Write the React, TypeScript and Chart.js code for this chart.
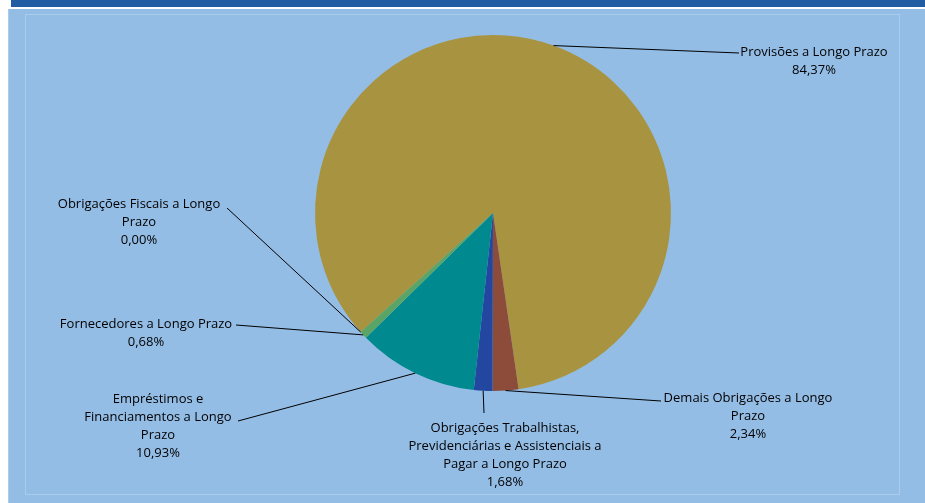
import React, { useEffect, useRef } from "react";
import { Chart, registerables } from "chart.js";

Chart.register(...registerables);

// ---- data ----
const categories: string[] = [
  "Provisões a Longo Prazo",
  "Demais Obrigações a Longo\nPrazo",
  "Obrigações Trabalhistas,\nPrevidenciárias e Assistenciais a\nPagar a Longo Prazo",
  "Empréstimos e\nFinanciamentos a Longo\nPrazo",
  "Fornecedores a Longo Prazo",
  "Obrigações Fiscais a Longo\nPrazo",
];
const percentValues: number[] = [84.37, 2.34, 1.68, 10.93, 0.68, 0.0];
const sliceColors: string[] = ["#A89440", "#8D4B39", "#2347A0", "#00898F", "#5AA566", "#7E9BC9"];

// ---- layout (label text centre x, first baseline y, leader end point) ----
const LABEL_LAYOUT = [
  { x: 814, y: 56, ex: 739, ey: 53 },
  { x: 748, y: 402, ex: 661, ey: 401 },
  { x: 505, y: 432, ex: 484, ey: 413 },
  { x: 158, y: 403, ex: 238, ey: 421 },
  { x: 146, y: 328, ex: 236, ey: 325 },
  { x: 139, y: 208, ex: 227, ey: 208 },
];
const LINE_H = 18;
const FONT = "13px 'Open Sans', 'Noto Sans', sans-serif";

const fmt = (v: number) => v.toFixed(2).replace(".", ",") + "%";

const backgroundPlugin = {
  id: "bgPanel",
  beforeDraw(chart: any) {
    const ctx = chart.ctx as CanvasRenderingContext2D;
    ctx.save();
    ctx.fillStyle = "#ffffff";
    ctx.fillRect(0, 0, chart.width, chart.height);
    ctx.fillStyle = "#225DA3";
    ctx.fillRect(11, 0, chart.width - 11, 7);
    ctx.fillStyle = "#94BDE6";
    ctx.fillRect(8, 9, chart.width - 8, chart.height - 9);
    ctx.fillStyle = "#A9CBEC";
    ctx.fillRect(8, 9, 1, chart.height - 9);
    ctx.strokeStyle = "#AACDEE";
    ctx.lineWidth = 1;
    ctx.strokeRect(25.5, 14.5, 874, 480);
    ctx.restore();
  },
};

const labelPlugin = {
  id: "leaderLabels",
  afterDatasetsDraw(chart: any) {
    const ctx = chart.ctx as CanvasRenderingContext2D;
    const meta = chart.getDatasetMeta(0);
    ctx.save();
    ctx.font = FONT;
    ctx.textAlign = "center";
    ctx.textBaseline = "alphabetic";
    meta.data.forEach((arc: any, i: number) => {
      const lay = LABEL_LAYOUT[i];
      const { x, y, startAngle, endAngle, outerRadius } = arc.getProps(
        ["x", "y", "startAngle", "endAngle", "outerRadius"],
        true
      );
      const mid = (startAngle + endAngle) / 2;
      const ax = x + Math.cos(mid) * outerRadius;
      const ay = y + Math.sin(mid) * outerRadius;
      ctx.strokeStyle = "#000000";
      ctx.lineWidth = 1;
      ctx.beginPath();
      ctx.moveTo(ax, ay);
      ctx.lineTo(lay.ex, lay.ey);
      ctx.stroke();
      const lines = categories[i].split("\n").concat([fmt(percentValues[i])]);
      ctx.fillStyle = "#000000";
      lines.forEach((t, k) => ctx.fillText(t, lay.x, lay.y + k * LINE_H));
    });
    ctx.restore();
  },
};

export default function App() {
  const ref = useRef<HTMLCanvasElement | null>(null);
  useEffect(() => {
    if (!ref.current) return;
    const chart = new Chart(ref.current, {
      type: "pie",
      data: {
        labels: categories.map((c) => c.replace(/\n/g, " ")),
        datasets: [
          {
            data: percentValues,
            backgroundColor: sliceColors,
            borderWidth: 0,
          },
        ],
      },
      options: {
        responsive: false,
        animation: false,
        rotation: 228,
        layout: { padding: { left: 315, right: 254, top: 35, bottom: 112 } },
        plugins: {
          legend: { display: false },
          tooltip: { enabled: false },
        },
      },
      plugins: [backgroundPlugin, labelPlugin],
    });
    return () => chart.destroy();
  }, []);
  return (
    <div style={{ position: "absolute", left: 0, top: 0, width: 925, height: 503 }}>
      <canvas ref={ref} width={925} height={503} style={{ display: "block" }} />
    </div>
  );
}
